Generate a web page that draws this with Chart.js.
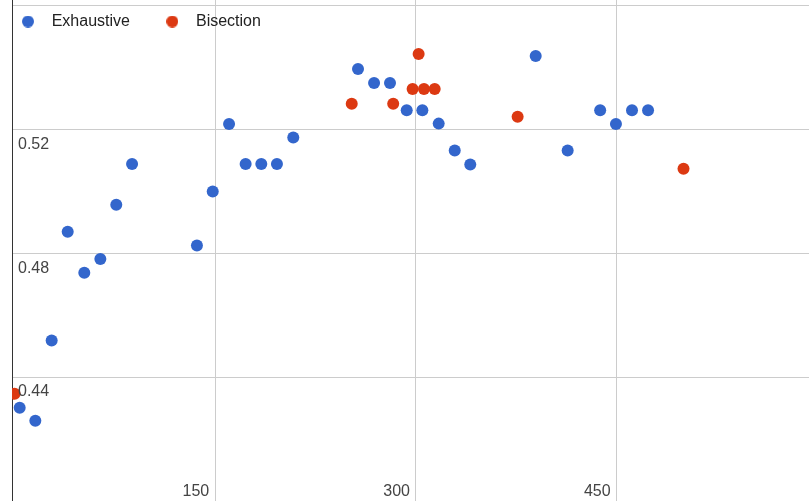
<!DOCTYPE html>
<html>
<head>
<meta charset="utf-8">
<script src="https://cdn.jsdelivr.net/npm/chart.js@4/dist/chart.umd.min.js"></script>
<style>
  html, body { margin: 0; padding: 0; background: #ffffff; }
  #wrap { width: 809px; height: 501px; }
</style>
</head>
<body>
<div id="wrap"><canvas id="c" width="809" height="501"></canvas></div>
<script>
const seriesNames = ['Exhaustive', 'Bisection'];
const exhaustiveX = [3.8, 15.5, 27.7, 39.7, 52.1, 64.1, 76, 87.8, 136.3, 148.1, 160.3, 172.7, 184.4, 196.1, 208.3, 256.7, 268.7, 280.6, 293.1, 304.8, 317, 329, 340.6, 389.5, 413.4, 437.7, 449.5, 461.5, 473.5];
const exhaustiveY = [0.4301, 0.4259, 0.4518, 0.4869, 0.4737, 0.4781, 0.4956, 0.5088, 0.4825, 0.4999, 0.5217, 0.5088, 0.5088, 0.5088, 0.5173, 0.5394, 0.5349, 0.5349, 0.5261, 0.5261, 0.5218, 0.5131, 0.5086, 0.5436, 0.5131, 0.5261, 0.5217, 0.5261, 0.5261];
const bisectionX = [0, 252, 283, 297.5, 302, 306, 314, 376, 500];
const bisectionY = [0.4346, 0.5282, 0.5282, 0.5330, 0.5443, 0.5330, 0.5330, 0.5240, 0.5072];
const xTickValues = [150, 300, 450];
const yTickValues = [0.44, 0.48, 0.52, 0.56];
const yHiddenLabels = [0.56];

const toPoints = (xs, ys) => xs.map((x, i) => ({ x: x, y: ys[i] }));

Chart.defaults.font.family = "'Liberation Sans', Arial, sans-serif";
Chart.defaults.font.size = 16;

// small round marker image for the legend (keeps a circle while reserving a wider legend box)
function makeDot(color, r) {
  const c = document.createElement('canvas');
  c.width = r * 2; c.height = r * 2;
  const g = c.getContext('2d');
  g.fillStyle = color;
  g.beginPath(); g.arc(r, r, r, 0, Math.PI * 2); g.fill();
  return c;
}

// Legend overlays the plot: it takes no layout space and is not clipped.
const legendOverlay = {
  id: 'legendOverlay',
  beforeLayout(chart) {
    const lg = chart.legend;
    if (lg && !lg._overlayPatched) {
      const origFit = lg.fit;
      lg.fit = function () { origFit.call(this); this.height = 0; };
      lg.draw = function () { if (this.options.display) { this._draw(); } };
      lg._overlayPatched = true;
    }
  },
  beforeDraw(chart) {
    const lg = chart.legend;
    if (lg) {
      lg.left = -14.3;
      lg.right = chart.width;
      lg.top = -13.1;
      lg.bottom = 40;
    }
  }
};

const zeroPadding = (s) => { s.paddingTop = 0; s.paddingBottom = 0; s.paddingLeft = 0; s.paddingRight = 0; };

new Chart(document.getElementById('c'), {
  type: 'scatter',
  data: {
    datasets: [
      {
        label: seriesNames[0],
        data: toPoints(exhaustiveX, exhaustiveY),
        backgroundColor: '#3366cc',
        borderColor: '#3366cc',
        borderWidth: 0,
        pointRadius: 6,
        pointHoverRadius: 6,
        pointStyle: 'circle',
        clip: 0
      },
      {
        label: seriesNames[1],
        data: toPoints(bisectionX, bisectionY),
        backgroundColor: '#dc3912',
        borderColor: '#dc3912',
        borderWidth: 0,
        pointRadius: 6,
        pointHoverRadius: 6,
        pointStyle: 'circle',
        clip: 0
      }
    ]
  },
  options: {
    responsive: false,
    animation: false,
    events: [],
    layout: { padding: 0, autoPadding: false },
    plugins: {
      tooltip: { enabled: false },
      legend: {
        display: true,
        position: 'top',
        align: 'start',
        labels: {
          usePointStyle: true,
          pointStyleWidth: 31.4,
          boxHeight: 12,
          padding: 26.6,
          color: '#222222',
          font: { size: 16 },
          generateLabels(chart) {
            const items = Chart.defaults.plugins.legend.labels.generateLabels(chart);
            items.forEach(it => { it.pointStyle = makeDot(it.fillStyle, 6); it.lineWidth = 0; });
            return items;
          }
        }
      }
    },
    scales: {
      x: {
        type: 'linear',
        position: 'bottom',
        min: -1.94,
        max: 593.8,
        afterFit: (s) => { s.height = 0; zeroPadding(s); },
        afterBuildTicks: (s) => { s.ticks = xTickValues.map(v => ({ value: v })); },
        grid: { color: '#cccccc', lineWidth: 1, drawTicks: false },
        border: { display: false },
        ticks: {
          z: 1,
          mirror: true,
          color: '#444444',
          font: { size: 16 },
          align: 'end',
          labelOffset: -6,
          padding: 0,
          maxRotation: 0,
          autoSkip: false,
          callback: (v) => String(v)
        }
      },
      y: {
        type: 'linear',
        position: 'left',
        min: 0.4,
        max: 0.5617,
        afterFit: (s) => { s.width = 12; zeroPadding(s); },
        afterBuildTicks: (s) => { s.ticks = yTickValues.map(v => ({ value: v })); },
        grid: { color: '#cccccc', lineWidth: 1, drawTicks: false },
        border: { display: true, color: '#333333', width: 1 },
        ticks: {
          z: 1,
          mirror: true,
          padding: 6,
          labelOffset: 15,
          color: '#444444',
          font: { size: 16 },
          autoSkip: false,
          callback: (v) => yHiddenLabels.includes(v) ? '' : v.toFixed(2)
        }
      }
    }
  },
  plugins: [legendOverlay]
});
</script>
</body>
</html>
